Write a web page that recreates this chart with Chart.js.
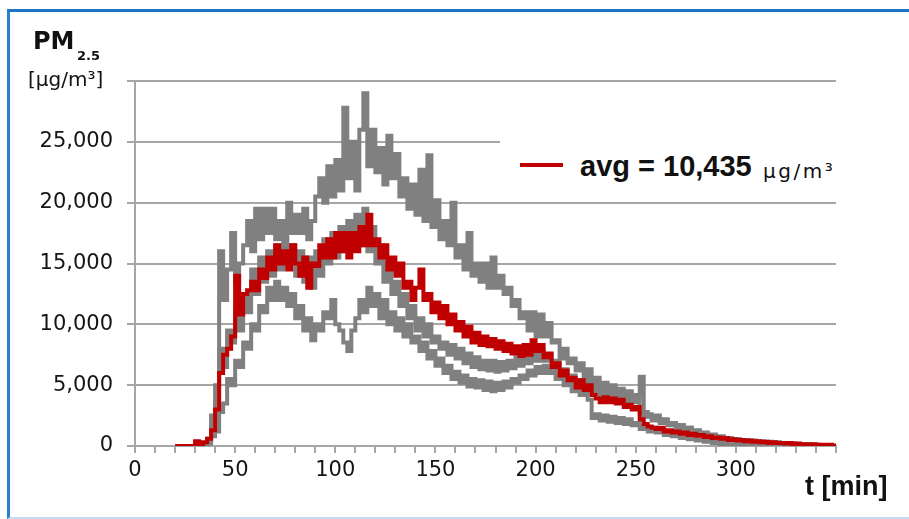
<!DOCTYPE html>
<html>
<head>
<meta charset="utf-8">
<script src="https://cdn.jsdelivr.net/npm/chart.js@4.4.0/dist/chart.umd.min.js"></script>
<style>
  html, body { margin: 0; padding: 0; background: #fff; }
  #wrap { position: relative; width: 909px; height: 519px; overflow: hidden; background: #fff; }
  #frame { position: absolute; left: 7px; top: 9px; width: 940px; height: 505px;
    border-top: 3px solid #1f74c6; border-left: 3px solid #2a7fcf; border-bottom: 2px solid #c4ddf4; }
  #chart { position: absolute; left: 0; top: 0; }
  .txt { position: absolute; white-space: nowrap; line-height: 1; color: #111; }
  #legendBox { position: absolute; left: 500px; top: 132px; width: 345px; height: 60px; background: #fff; }
  #legendLine { position: absolute; left: 520px; top: 163px; width: 43px; height: 4px; background: #c00000; }
</style>
</head>
<body>
<div id="wrap">
  <div id="frame"></div>
  <canvas id="chart" width="909" height="519"></canvas>
  <div class="txt" style="left:33px; top:27px; font:bold 24px 'DejaVu Sans';">PM</div>
  <div class="txt" style="left:77px; top:48px; font:bold 13px 'DejaVu Sans';">2.5</div>
  <div class="txt" style="left:28px; top:67px; font:20px 'DejaVu Sans';">[µg/m³]</div>
  <div id="legendBox"></div>
  <div id="legendLine"></div>
  <div class="txt" style="left:580px; top:150px; font:bold 29px 'Liberation Sans';">avg = 10,435</div>
  <div class="txt" style="left:763px; top:159px; font:20px 'DejaVu Sans'; letter-spacing:2.5px;">µg/m³</div>
  <div class="txt" style="left:805px; top:471px; font:bold 27px 'Liberation Sans';">t [min]</div>
</div>
<script>
// PM2.5 concentration over time: three runs (grey) and their average (red).

const TIME_MIN = [
  20, 22, 24, 26, 28, 30, 32, 34, 36, 38,
  40, 42, 44, 46, 48, 50, 52, 54, 56, 58,
  60, 62, 64, 66, 68, 70, 72, 74, 76, 78,
  80, 82, 84, 86, 88, 90, 92, 94, 96, 98,
  100, 102, 104, 106, 108, 110, 112, 114, 116, 118,
  120, 122, 124, 126, 128, 130, 132, 134, 136, 138,
  140, 142, 144, 146, 148, 150, 152, 154, 156, 158,
  160, 162, 164, 166, 168, 170, 172, 174, 176, 178,
  180, 182, 184, 186, 188, 190, 192, 194, 196, 198,
  200, 202, 204, 206, 208, 210, 212, 214, 216, 218,
  220, 222, 224, 226, 228, 230, 232, 234, 236, 238,
  240, 242, 244, 246, 248, 250, 252, 254, 256, 258,
  260, 262, 264, 266, 268, 270, 272, 274, 276, 278,
  280, 282, 284, 286, 288, 290, 292, 294, 296, 298,
  300, 302, 304, 306, 308, 310, 312, 314, 316, 318,
  320, 322, 324, 326, 328, 330, 332, 334, 336, 338,
  340, 342, 344, 346, 348, 350
];

const AVG = [
  0, 0, 0, 0, 0, 400, 100, 300, 600, 1300,
  3000, 6000, 7500, 8000, 9000, 14000, 10800, 12500, 12800, 13500,
  12800, 14500, 13800, 15500, 14500, 16500, 15000, 16000, 14500, 16500,
  15000, 14000, 15500, 13000, 15000, 14800, 16500, 15500, 17000, 15500,
  17500, 16000, 17500, 15500, 17500, 16000, 18000, 16500, 19000, 16500,
  17000, 15500, 16500, 14500, 15500, 14000, 15000, 13000, 13500, 12000,
  13000, 14500, 12000, 12500, 11000, 11800, 10500, 11500, 10000, 10800,
  9500, 10200, 9000, 9800, 8500, 9300, 8300, 9000, 8200, 8800,
  8000, 8600, 7800, 8400, 7600, 8200, 7400, 8300, 7500, 8700,
  7800, 8300, 7300, 7600, 6500, 6800, 5800, 6200, 5400, 5600,
  4800, 5400, 4600, 5000, 4200, 3900, 3600, 4000, 3600, 3900,
  3500, 3800, 3200, 3400, 3000, 3200, 2200, 1800, 1600, 1500,
  1400, 1500, 1200, 1300, 1100, 1200, 1000, 1100, 900, 1000,
  850, 900, 750, 800, 650, 700, 600, 650, 500, 550,
  450, 500, 400, 450, 350, 400, 300, 350, 250, 300,
  250, 250, 200, 250, 150, 200, 150, 150, 100, 150,
  100, 100, 50, 100, 50, 50
];

// run with the high peak (~29,000 at 114 min)
const RUN_1 = [
  null, null, null, null, null, 0, 100, 200, 600, 2500,
  5000, 16000, 12000, 14500, 17500, 13500, 15000, 16500, 18500, 16000,
  19500, 17000, 19500, 17500, 19500, 17000, 18500, 17000, 20000, 17500,
  19000, 17500, 19500, 17000, 18500, 20500, 22000, 20000, 23000, 20500,
  23500, 21000, 27800, 22000, 25000, 21000, 26000, 29000, 23000, 26000,
  22500, 24500, 21500, 25500, 22000, 24000, 20500, 22000, 19500, 21500,
  19000, 22700, 18500, 23900, 18000, 20200, 17000, 18500, 16500, 20000,
  15500, 16500, 14500, 17500, 14000, 15000, 13500, 15000, 13000, 15500,
  13000, 14000, 12500, 13000, 11500, 12000, 10500, 11000, 9500, 11000,
  9000, 10800, 9000, 10100, 8500, 8700, 7200, 8000, 6800, 7200,
  6200, 6800, 5500, 6300, 5000, 5600, 4600, 5200, 4300, 5000,
  4200, 4700, 3700, 4400, 3600, 4000, 2700, 2400, 2600, 2100,
  2400, 1900, 2100, 1700, 1900, 1500, 1700, 1300, 1500, 1150,
  1250, 950, 1050, 800, 900, 700, 750, 550, 650, 500,
  550, 400, 500, 350, 450, 300, 400, 250, 350, 250,
  300, 200, 250, 150, 200, 100, 150, 100, 150, 50,
  100, 0, 50, 0, 0, 0
];

// middle run
const RUN_2 = [
  null, null, null, null, null, 0, 0, 100, 400, 1800,
  3500, 8000, 6500, 9500, 8500, 11000, 9500, 12500, 11000, 14500,
  12500, 15500, 13500, 16000, 14000, 16500, 14500, 17000, 15000, 16500,
  14000, 16000, 13500, 15500, 13000, 16000, 14000, 17000, 15000, 17500,
  15500, 18000, 16000, 18500, 16500, 19000, 16500, 19500, 16000, 18000,
  15000, 16500, 13500, 15000, 12500, 13500, 11500, 12500, 10500, 11500,
  9500, 10500, 9000, 10000, 8500, 9000, 8000, 8500, 7500, 8300,
  7200, 8000, 6800, 7600, 6500, 7300, 6300, 7000, 6200, 7000,
  6100, 6900, 6200, 7000, 6400, 7300, 6600, 7500, 6800, 7800,
  7000, 7900, 7000, 7500, 6500, 7000, 5800, 6300, 5300, 5800,
  4900, 5400, 4600, 5200, 4400, 5000, 4200, 4800, 4100, 4700,
  4000, 4600, 3900, 4500, 3700, 4200, 5700, 2800, 2500, 2200,
  2500, 2000, 2200, 1800, 1900, 1500, 1700, 1300, 1500, 1100,
  1300, 950, 1100, 800, 950, 650, 800, 550, 650, 450,
  550, 350, 450, 300, 400, 250, 350, 200, 300, 150,
  250, 100, 200, 100, 150, 50, 100, 50, 100, 0,
  50, 0, 0, 0, 0, 0
];

// lowest run
const RUN_3 = [
  null, null, null, null, null, 0, 0, 0, 200, 800,
  1200, 2800, 3500, 5500, 5000, 7000, 6500, 8500, 8000, 10000,
  9500, 11500, 11000, 13000, 12000, 13500, 12000, 13000, 11500, 12500,
  10500, 11500, 9500, 10500, 8700, 10000, 9500, 11000, 10500, 12000,
  10000, 9500, 8500, 7800, 9500, 10500, 12000, 11000, 13000, 11500,
  12500, 10500, 12000, 10000, 11000, 9500, 10500, 9000, 10000, 8500,
  9000, 7800, 8500, 7200, 7800, 6600, 7200, 6000, 6600, 5500,
  6100, 5200, 5800, 4900, 5500, 4800, 5400, 4600, 5300, 4500,
  5200, 4600, 5300, 4800, 5500, 5200, 5800, 5500, 6200, 5800,
  6500, 6000, 6600, 6000, 6300, 5500, 5800, 5000, 5300, 4500,
  4800, 4200, 4500, 3800, 2300, 2600, 2100, 2500, 2000, 2400,
  1900, 2300, 1800, 2200, 1700, 1900, 1400, 1600, 1200, 1500,
  1100, 1300, 900, 1100, 800, 950, 650, 800, 550, 700,
  450, 550, 350, 450, 250, 350, 150, 250, 100, 150,
  50, 100, 0, 0, 0, 0, 0, 0, 0, 0,
  0, 0, 0, 0, 0, 0, 0, 0, 0, 0,
  0, 0, 0, 0, 0, 0
];

const X_TICKS = [0, 10, 20, 30, 40, 50, 60, 70, 80, 90, 100, 110, 120, 130, 140, 150, 160, 170,
  180, 190, 200, 210, 220, 230, 240, 250, 260, 270, 280, 290, 300, 310, 320, 330, 340, 350];
const X_LABELS = ['0', '50', '100', '150', '200', '250', '300'];
const Y_TICKS = [0, 5000, 10000, 15000, 20000, 25000, 30000];
const Y_LABELS = ['0', '5,000', '10,000', '15,000', '20,000', '25,000', ''];

const GREY = '#808080';
const RED = '#c00000';
const GRID = '#a6a6a6';
const INK = '#151515';

function points(values) {
  return TIME_MIN.map((t, i) => ({ x: t, y: values[i] }));
}

// wide stepped strokes so the noisy runs read as dense, blocky bands
function greyRun(values) {
  return { data: points(values), borderColor: GREY, borderWidth: 4, stepped: true, order: 1 };
}

new Chart(document.getElementById('chart'), {
  type: 'line',
  data: {
    datasets: [
      { data: points(AVG), borderColor: RED, borderWidth: 4, stepped: true, order: 0 },
      greyRun(RUN_1),
      greyRun(RUN_2),
      greyRun(RUN_3)
    ]
  },
  options: {
    responsive: false, animation: false, devicePixelRatio: 1,
    layout: { padding: { left: 0, right: 73, top: 81, bottom: 0 } },
    elements: { point: { radius: 0 }, line: { tension: 0, borderCapStyle: 'butt', borderJoinStyle: 'miter' } },
    plugins: { legend: { display: false }, tooltip: { enabled: false } },
    scales: {
      x: {
        type: 'linear', min: 0, max: 350,
        afterFit: s => { s.height = 73; },
        afterBuildTicks: s => { s.ticks = X_TICKS.map(v => ({ value: v })); },
        grid: { drawOnChartArea: false, drawTicks: true, tickLength: 7, color: GRID, lineWidth: 2 },
        border: { color: GRID, width: 2 },
        ticks: {
          autoSkip: false, maxRotation: 0, padding: 5, color: INK,
          font: { family: 'DejaVu Sans', size: 21 },
          callback: v => X_LABELS.includes(String(v)) ? String(v) : ''
        }
      },
      y: {
        min: 0, max: 30000,
        afterFit: s => { s.width = 135; },
        afterBuildTicks: s => { s.ticks = Y_TICKS.map(v => ({ value: v })); },
        grid: { color: GRID, lineWidth: 2, tickLength: 8 },
        border: { color: GRID, width: 2 },
        ticks: {
          padding: 14, color: INK,
          font: { family: 'DejaVu Sans', size: 21 },
          callback: v => Y_LABELS[Y_TICKS.indexOf(v)]
        }
      }
    }
  }
});
</script>
</body>
</html>
